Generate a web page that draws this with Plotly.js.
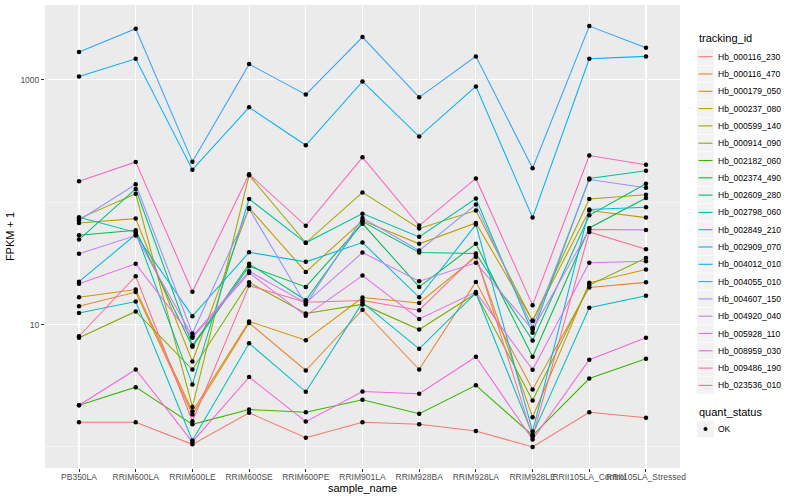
<!DOCTYPE html>
<html>
<head>
<meta charset="utf-8">
<script src="https://cdn.plot.ly/plotly-3.0.1.min.js"></script>
<style>html,body{margin:0;padding:0;background:#fff;}#chart{width:800px;height:500px;}</style>
</head>
<body>
<div id="chart"></div>
<script>
// categories
const sample_name = ["PB350LA","RRIM600LA","RRIM600LE","RRIM600SE","RRIM600PE","RRIM901LA","RRIM928BA","RRIM928LA","RRIM928LE","RRII105LA_Control","RRII105LA_Stressed"];
const tracking_id = ["Hb_000116_230","Hb_000116_470","Hb_000179_050","Hb_000237_080","Hb_000599_140","Hb_000914_090","Hb_002182_060","Hb_002374_490","Hb_002609_280","Hb_002798_060","Hb_002849_210","Hb_002909_070","Hb_004012_010","Hb_004055_010","Hb_004607_150","Hb_004920_040","Hb_005928_110","Hb_008959_030","Hb_009486_190","Hb_023536_010"];
const colors = ["#F8766D","#EA8331","#D89000","#C09B00","#A3A500","#7CAE00","#39B600","#00BB4E","#00BF7D","#00C1A3","#00BFC4","#00BAE0","#00B0F6","#35A2FF","#9590FF","#C77CFF","#E76BF3","#FA62DB","#FF62BC","#FF6C91"];
const quant_status = ["OK"];

// FPKM + 1 values per tracking_id (one value per sample_name)
const Hb_000116_230 = [1.59, 1.59, 1.05, 1.90, 1.19, 1.59, 1.53, 1.35, 1.00, 1.92, 1.73];
const Hb_000116_470 = [14.1, 18.4, 1.84, 10.3, 4.21, 13.2, 4.29, 22.3, 2.94, 20.1, 22.1];
const Hb_000179_050 = [16.7, 19.3, 1.95, 10.6, 7.44, 16.6, 15.0, 35.7, 1.75, 21.9, 28.1];
const Hb_000237_080 = [67.6, 73.3, 4.99, 89.7, 26.9, 70.6, 45.6, 67.6, 10.8, 85.3, 74.7];
const Hb_000599_140 = [73.3, 117, 2.12, 166, 46.5, 120, 60.8, 85.3, 10.7, 106, 115];
const Hb_000914_090 = [7.79, 12.8, 4.29, 22.1, 12.3, 14.6, 9.1, 17.9, 2.40, 21.0, 35.0];
const Hb_002182_060 = [2.19, 3.08, 1.53, 2.02, 1.92, 2.43, 1.87, 3.19, 1.24, 3.62, 5.25];
const Hb_002374_490 = [53.6, 58.9, 6.58, 29.9, 20.3, 66.7, 20.3, 45.6, 5.45, 61.5, 108];
const Hb_002609_280 = [49.4, 128, 6.74, 31.3, 15.8, 69.3, 38.7, 38.0, 7.4, 78, 141];
const Hb_002798_060 = [75.2, 56.6, 3.24, 106, 46.5, 80.5, 52.0, 107, 8.55, 156, 180];
const Hb_002849_210 = [12.4, 15.4, 1.13, 7.03, 2.82, 15.1, 6.33, 18.1, 1.26, 13.7, 17.2];
const Hb_002909_070 = [22.4, 54.3, 11.7, 38.9, 32.5, 46.7, 16.7, 65.5, 1.34, 86.9, 90.7];
const Hb_004012_010 = [1060, 1480, 184, 594, 291, 968, 343, 881, 74.7, 1480, 1550];
const Hb_004055_010 = [1680, 2610, 214, 1340, 755, 2230, 717, 1550, 189, 2740, 1820];
const Hb_004607_150 = [71, 140, 8.45, 88, 14.6, 74.3, 40.2, 95.5, 9.4, 153, 131];
const Hb_004920_040 = [37.8, 53.3, 8.02, 27.2, 15.0, 38.7, 22.6, 31.9, 9.1, 59.7, 59.3];
const Hb_005928_110 = [21.5, 31.3, 7.79, 26.4, 11.8, 25.1, 11.1, 18.4, 4.27, 31.9, 32.9];
const Hb_008959_030 = [2.19, 4.29, 1.10, 3.72, 1.61, 2.84, 2.72, 5.45, 1.15, 5.15, 7.79];
const Hb_009486_190 = [148, 213, 18.5, 169, 64, 232, 64.3, 156, 14.4, 240, 202];
const Hb_023536_010 = [8.02, 24.8, 1.62, 20.8, 15.2, 15.7, 13.1, 36.9, 1.21, 57.1, 41.2];

const series = [Hb_000116_230,Hb_000116_470,Hb_000179_050,Hb_000237_080,Hb_000599_140,Hb_000914_090,Hb_002182_060,Hb_002374_490,Hb_002609_280,Hb_002798_060,Hb_002849_210,Hb_002909_070,Hb_004012_010,Hb_004055_010,Hb_004607_150,Hb_004920_040,Hb_005928_110,Hb_008959_030,Hb_009486_190,Hb_023536_010];

const FONT = "Liberation Sans, Arial, Helvetica, sans-serif";
const W = 800, H = 500, ML = 45, MR = 120, MT = 5, MB = 32;
const PW = W - ML - MR, PH = H - MT - MB;
const fx = p => (p - ML) / PW;          // pixel -> paper x
const fy = p => (H - MB - p) / PH;      // pixel -> paper y

const traces = [];
series.forEach((vals, i) => {
  traces.push({
    type: "scatter", mode: "lines", x: sample_name, y: vals,
    name: tracking_id[i], showlegend: false,
    line: {color: colors[i], width: 1.05}, hoverinfo: "skip"
  });
});
const px = [], py = [];
series.forEach(vals => { vals.forEach((v, j) => { px.push(sample_name[j]); py.push(v); }); });
traces.push({
  type: "scatter", mode: "markers", x: px, y: py, name: quant_status[0], showlegend: false,
  marker: {color: "#000000", size: 4.5}, hoverinfo: "skip"
});

// ggplot-style legend (keys + labels)
const shapes = [], annotations = [];
const keyL = 697, keyW = 17, step = 17.3, first = 56.7;
annotations.push({xref: "paper", yref: "paper", x: fx(697), y: fy(38), xanchor: "left", yanchor: "middle",
  text: "tracking_id", showarrow: false, font: {family: FONT, size: 11, color: "#000000"}});
tracking_id.forEach((id, i) => {
  const cy = first + step * i;
  shapes.push({type: "rect", xref: "paper", yref: "paper", x0: fx(keyL), x1: fx(keyL + keyW), y0: fy(cy - 8.3), y1: fy(cy + 8.3),
    fillcolor: "#F2F2F2", line: {width: 0}, layer: "above"});
  shapes.push({type: "line", xref: "paper", yref: "paper", x0: fx(keyL + 1.5), x1: fx(keyL + keyW - 1.5), y0: fy(cy), y1: fy(cy),
    line: {color: colors[i], width: 1.1}, layer: "above"});
  annotations.push({xref: "paper", yref: "paper", x: fx(716), y: fy(cy), xanchor: "left", yanchor: "middle",
    text: id, showarrow: false, font: {family: FONT, size: 8.5, color: "#000000"}});
});
annotations.push({xref: "paper", yref: "paper", x: fx(697), y: fy(412), xanchor: "left", yanchor: "middle",
  text: "quant_status", showarrow: false, font: {family: FONT, size: 11, color: "#000000"}});
{
  const cy = 429;
  shapes.push({type: "rect", xref: "paper", yref: "paper", x0: fx(keyL), x1: fx(keyL + keyW), y0: fy(cy - 8.3), y1: fy(cy + 8.3),
    fillcolor: "#F2F2F2", line: {width: 0}, layer: "above"});
  shapes.push({type: "circle", xref: "paper", yref: "paper", x0: fx(keyL + 8.5 - 2), x1: fx(keyL + 8.5 + 2), y0: fy(cy - 2), y1: fy(cy + 2),
    fillcolor: "#000000", line: {width: 0}, layer: "above"});
  annotations.push({xref: "paper", yref: "paper", x: fx(716), y: fy(cy), xanchor: "left", yanchor: "middle",
    text: quant_status[0], showarrow: false, font: {family: FONT, size: 8.5, color: "#000000"}});
}

const layout = {
  width: W, height: H,
  margin: {l: ML, r: MR, t: MT, b: MB},
  paper_bgcolor: "#FFFFFF", plot_bgcolor: "#EBEBEB",
  font: {family: FONT, size: 9, color: "#4D4D4D"},
  showlegend: false,
  xaxis: {
    type: "category", range: [-0.6, 10.6], tickangle: 0,
    showgrid: true, gridcolor: "#FFFFFF", gridwidth: 1.1,
    zeroline: false, showline: false,
    ticks: "outside", ticklen: 3, tickcolor: "#333333", tickwidth: 1,
    ticklabelstandoff: -2,
    tickfont: {family: FONT, size: 8.5, color: "#4D4D4D"},
    title: {text: "sample_name", font: {family: FONT, size: 11, color: "#000000"}, standoff: 0},
    automargin: false
  },
  yaxis: {
    type: "log", range: [-0.172, 3.61],
    tickmode: "array", tickvals: [10, 1000], ticktext: ["10", "1000"],
    showgrid: true, gridcolor: "#FFFFFF", gridwidth: 1.1,
    minor: {tickmode: "array", tickvals: [1, 100, 10000], showgrid: true, gridcolor: "#FFFFFF", gridwidth: 0.5, ticks: ""},
    zeroline: false, showline: false,
    ticks: "outside", ticklen: 3, tickcolor: "#333333", tickwidth: 1,
    tickfont: {family: FONT, size: 8.5, color: "#4D4D4D"},
    title: {text: "FPKM + 1", font: {family: FONT, size: 11, color: "#000000"}, standoff: 3},
    automargin: false
  },
  shapes: shapes,
  annotations: annotations
};

Plotly.newPlot("chart", traces, layout, {staticPlot: true, displayModeBar: false});
</script>
</body>
</html>
